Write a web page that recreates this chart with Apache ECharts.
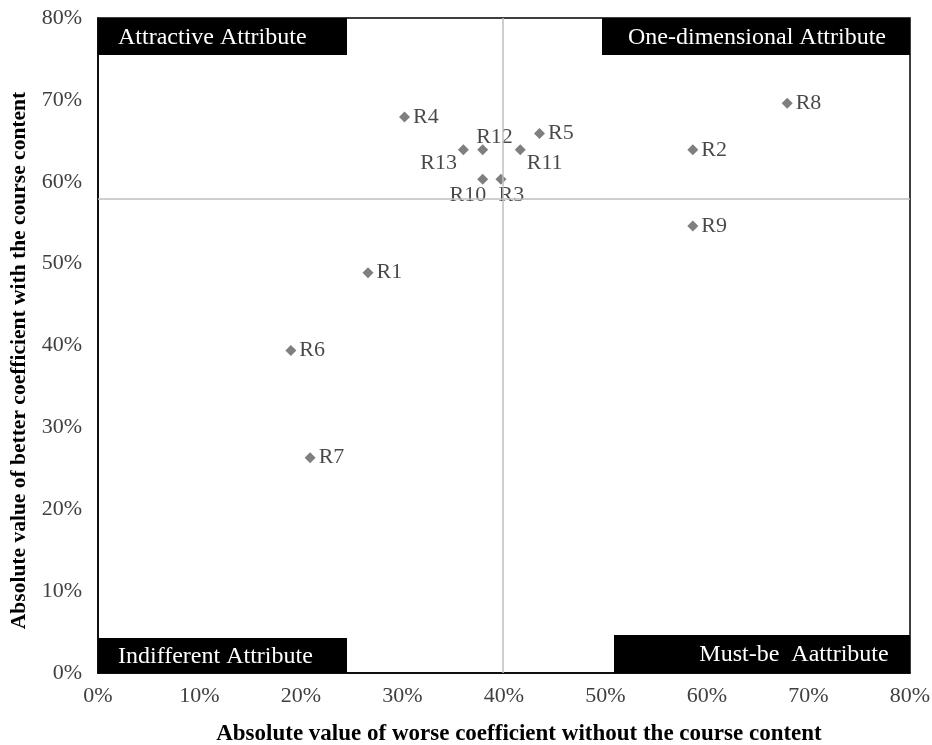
<!DOCTYPE html>
<html>
<head>
<meta charset="utf-8">
<script src="https://cdn.jsdelivr.net/npm/echarts@6/dist/echarts.min.js"></script>
<style>html,body{margin:0;padding:0;background:#fff}#c{width:932px;height:745px}</style>
</head>
<body>
<div id="c"></div>
<script>
// Data
var names = ['R1','R2','R3','R4','R5','R6','R7','R8','R9','R10','R11','R12','R13'];
var worse = [26.6, 58.6, 39.7, 30.2, 43.5, 19.0, 20.9, 67.9, 58.6, 37.9, 41.6, 37.9, 36.0];
var better = [48.9, 63.9, 60.3, 67.9, 65.9, 39.4, 26.3, 69.6, 54.6, 60.3, 63.9, 63.9, 63.9];
var avgWorse = 39.9;
var avgBetter = 57.9;
var xTicks = [0,10,20,30,40,50,60,70,80];
var yTicks = [0,10,20,30,40,50,60,70,80];
var quadrantLabels = ['Attractive Attribute','One-dimensional Attribute','Indifferent Attribute','Must-be  Aattribute'];

var labelPos = {
  'R12': {position: 'right', offset: [-15, -13]},
  'R13': {position: 'left', offset: [2, 13]},
  'R11': {position: 'right', offset: [-2, 13]},
  'R10': {position: 'left', offset: [12, 16]},
  'R3': {position: 'right', offset: [-11, 16]}
};

var serif = '"Liberation Serif","Times New Roman",serif';
var pts = names.map(function(n, i){
  var d = {name: n, value: [worse[i], better[i]]};
  if (labelPos[n]) d.label = labelPos[n];
  return d;
});

var chart = echarts.init(document.getElementById('c'), null, {renderer: 'canvas'});
var L = 98, R = 910, T = 18, B = 673;

function box(x, y, w, h, text, tx, align) {
  return {
    type: 'group',
    children: [
      {type: 'rect', shape: {x: x, y: y, width: w, height: h}, style: {fill: '#000'}, z: 10},
      {type: 'text', x: tx, y: y + h/2 + 1, style: {text: text, fill: '#fff', font: '24px ' + serif, textAlign: align, textVerticalAlign: 'middle'}, z: 11}
    ]
  };
}

chart.setOption({
  animation: false,
  backgroundColor: '#fff',
  grid: {left: L, right: 932 - R, top: T, bottom: 745 - B, show: true, borderColor: '#000', borderWidth: 1.5,
    containLabel: false, outerBoundsMode: 'none'},
  xAxis: {
    type: 'value', min: 0, max: 80, interval: 10,
    name: 'Absolute value of worse coefficient without the course content',
    nameLocation: 'middle', nameGap: 50,
    nameTextStyle: {fontFamily: serif, fontWeight: 'bold', fontSize: 23, color: '#000', padding: [0, 0, 0, 30]},
    axisLine: {show: true, lineStyle: {color: '#000', width: 1.5}},
    axisTick: {show: false},
    splitLine: {show: false},
    axisLabel: {fontFamily: serif, fontSize: 22, color: '#404040', margin: 12,
      formatter: function(v){ return v + '%'; }}
  },
  yAxis: {
    type: 'value', min: 0, max: 80, interval: 10,
    name: 'Absolute value of better coefficient with the course content',
    nameLocation: 'middle', nameGap: 67,
    nameTextStyle: {fontFamily: serif, fontWeight: 'bold', fontSize: 21.5, color: '#000', padding: [0, 30, 0, 0]},
    axisLine: {show: true, lineStyle: {color: '#000', width: 1.5}},
    axisTick: {show: false},
    splitLine: {show: false},
    axisLabel: {fontFamily: serif, fontSize: 22, color: '#404040', margin: 16,
      formatter: function(v){ return v + '%'; }}
  },
  series: [{
    type: 'scatter',
    symbol: 'diamond',
    symbolSize: 11,
    itemStyle: {color: '#5f5f5f'},
    data: pts,
    label: {show: true, position: 'right', distance: 3, formatter: '{b}',
      fontFamily: serif, fontSize: 22, color: '#1a1a1a'},
    markLine: {
      silent: true, symbol: 'none', animation: false,
      lineStyle: {color: '#bfbfbf', width: 1.5, type: 'solid'},
      label: {show: false},
      data: [{xAxis: avgWorse}, {yAxis: avgBetter}]
    }
  }],
  graphic: [
    box(L, T, 249, 37, quadrantLabels[0], 118, 'left'),
    box(602, T, R - 602, 37, quadrantLabels[1], 757, 'center'),
    box(L, 638, 249, B - 638, quadrantLabels[2], 118, 'left'),
    box(614, 635, R - 614, B - 635, quadrantLabels[3], 794, 'center')
  ]
});
</script>
</body>
</html>
